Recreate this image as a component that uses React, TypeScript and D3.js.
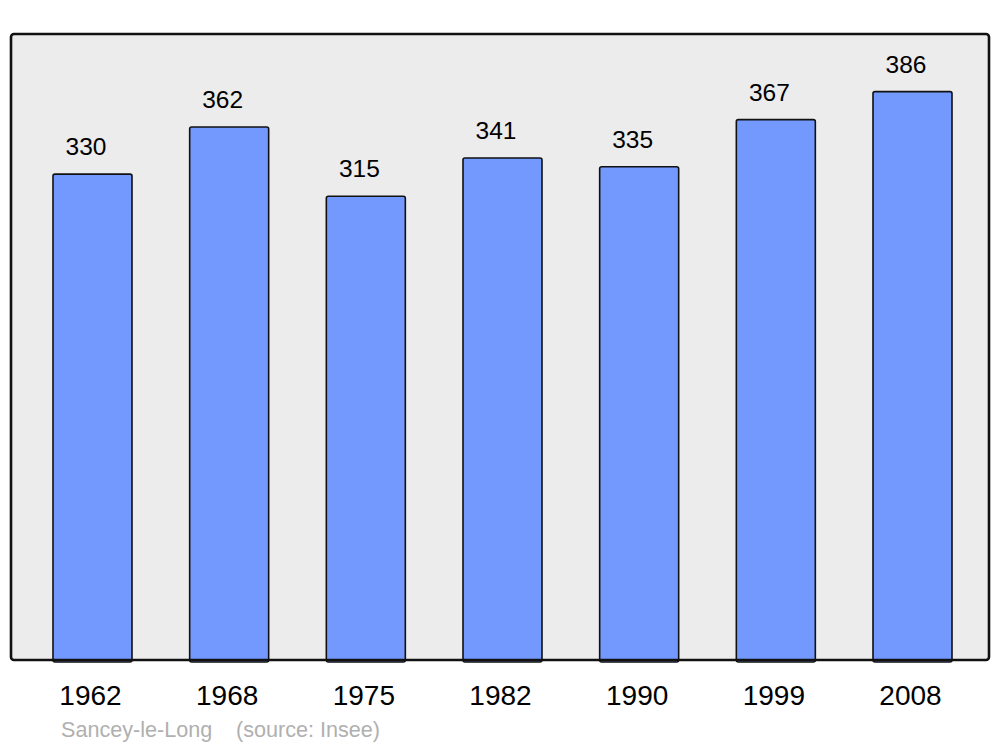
import React from "react";
import * as d3 from "d3";

const years = ["1962", "1968", "1975", "1982", "1990", "1999", "2008"];
const population = [330, 362, 315, 341, 335, 367, 386];
const placeName = "Sancey-le-Long";
const sourceText = "(source: Insee)";

const W = 1000;
const H = 747;
const frame = { left: 11, top: 34, right: 989, bottom: 660 };

export default function App() {
  const x = d3
    .scaleBand<string>()
    .domain(years)
    .range([53, 952])
    .paddingInner(0.422)
    .paddingOuter(0);
  const y = d3
    .scaleLinear()
    .domain([0, d3.max(population)! * 1.1])
    .range([frame.bottom, frame.top]);

  const font = "'Liberation Sans', Arial, sans-serif";

  return (
    <svg
      width={W}
      height={H}
      style={{ position: "absolute", left: 0, top: 0, background: "#fff" }}
    >
      <rect
        x={frame.left}
        y={frame.top}
        width={frame.right - frame.left}
        height={frame.bottom - frame.top}
        rx={3}
        fill="#ececec"
        stroke="none"
      />
      {years.map((yr, i) => {
        const bx = x(yr)!;
        const by = y(population[i]) + 0.7;
        return (
          <g key={yr}>
            <rect
              x={bx}
              y={by}
              width={x.bandwidth()}
              height={frame.bottom - by + 2}
              rx={2}
              fill="#7399ff"
              stroke="#111"
              strokeWidth={1.6}
            />
            <text
              x={bx + x.bandwidth() / 2 - 6.5}
              y={by - 19}
              textAnchor="middle"
              fontFamily={font}
              fontSize={24.5}
              fill="#000"
            >
              {population[i]}
            </text>
            <text
              x={bx + x.bandwidth() / 2 - 2}
              y={705}
              textAnchor="middle"
              fontFamily={font}
              fontSize={28}
              fill="#000"
            >
              {yr}
            </text>
          </g>
        );
      })}
      <rect
        x={frame.left}
        y={frame.top}
        width={frame.right - frame.left}
        height={frame.bottom - frame.top}
        rx={3}
        fill="none"
        stroke="#111"
        strokeWidth={2.6}
      />
      <text x={61} y={737} fontFamily={font} fontSize={21.6} fill="#b0b0b0">
        {placeName}
      </text>
      <text x={236} y={737} fontFamily={font} fontSize={21.6} fill="#b0b0b0">
        {sourceText}
      </text>
    </svg>
  );
}
